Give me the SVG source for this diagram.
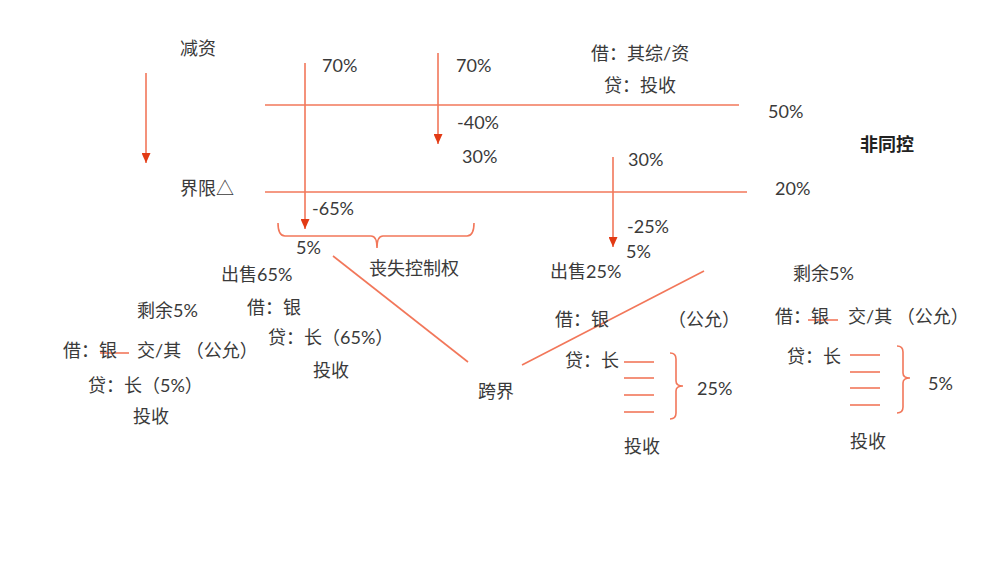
<svg xmlns="http://www.w3.org/2000/svg" width="1004" height="565" viewBox="0 0 1004 565">
<style>
text{font-family:"Lato","Noto Sans CJK SC",sans-serif;font-size:18px;fill:#3a3a3a}
.b{font-weight:bold;fill:#222}
.ln{stroke:#F2775A;stroke-width:1.6;fill:none}
.ar{stroke:#F2775A;stroke-width:1.6;fill:none;marker-end:url(#ah)}
</style>
<defs>
<marker id="ah" markerWidth="10" markerHeight="9" refX="10" refY="4.5" orient="auto" markerUnits="userSpaceOnUse" viewBox="0 0 10 9">
<path d="M0,0 L10,4.5 L0,9 Z" fill="#E23A14"/>
</marker>
</defs>
<rect width="1004" height="565" fill="#fff"/>
<g id="connectors">
<line class="ar" x1="146" y1="73" x2="146" y2="163"/>
<line class="ar" x1="305" y1="63" x2="305" y2="229"/>
<line class="ar" x1="438" y1="53" x2="438" y2="144"/>
<line class="ar" x1="613" y1="157" x2="613" y2="247"/>
<line class="ln" x1="265" y1="105" x2="739" y2="105"/>
<line class="ln" x1="265" y1="192" x2="747" y2="192"/>
<path class="ln" d="M278,223 Q278,236 285,236 L371,236 Q377,236 377,248 Q377,236 383,236 L467,236 Q474,236 474,223"/>
<line class="ln" x1="333" y1="256" x2="468" y2="362"/>
<line class="ln" x1="522" y1="365" x2="704" y2="271"/>
<line class="ln" x1="100" y1="353" x2="129" y2="353"/>
<line class="ln" x1="808" y1="320" x2="838" y2="320"/>
<line class="ln" x1="624" y1="362" x2="654" y2="362"/>
<line class="ln" x1="624" y1="378" x2="654" y2="378"/>
<line class="ln" x1="624" y1="395" x2="654" y2="395"/>
<line class="ln" x1="624" y1="412" x2="654" y2="412"/>
<path class="ln" d="M670,353 Q676,353 676,359 L676,381 Q676,386 683,386 Q676,386 676,391 L676,413 Q676,419 670,419"/>
<line class="ln" x1="850" y1="355" x2="880" y2="355"/>
<line class="ln" x1="850" y1="372" x2="880" y2="372"/>
<line class="ln" x1="850" y1="388" x2="880" y2="388"/>
<line class="ln" x1="850" y1="405" x2="880" y2="405"/>
<path class="ln" d="M897,346 Q903,346 903,352 L903,373 Q903,378 910,378 Q903,378 903,383 L903,407 Q903,413 897,413"/>
</g>
<g id="n-jianzi"><text x="180" y="55">减资</text></g>
<g id="n-jiexian"><text x="180" y="195">界限△</text></g>
<g id="n-top-left"><text x="322" y="72">70%</text><text x="312" y="215">-65%</text><text x="296" y="254">5%</text></g>
<g id="n-top-mid"><text x="456" y="72">70%</text><text x="457" y="129">-40%</text><text x="462" y="163">30%</text></g>
<g id="n-entry-top"><text x="591" y="60">借：其综/资</text><text x="604" y="92">贷：投收</text></g>
<g id="n-50"><text x="768" y="118">50%</text></g>
<g id="n-20"><text x="775" y="195">20%</text></g>
<g id="n-feitongkong"><text class="b" x="860" y="151">非同控</text></g>
<g id="n-right-arrow"><text x="628" y="166">30%</text><text x="627" y="233">-25%</text><text x="626" y="258">5%</text></g>
<g id="n-sangshi"><text x="369" y="275">丧失控制权</text></g>
<g id="n-sell65"><text x="221" y="281">出售65%</text><text x="247" y="314">借：银</text><text x="268" y="344">贷：长（65%）</text><text x="313" y="377">投收</text></g>
<g id="n-remain-left"><text x="137" y="317">剩余5%</text><text x="63" y="357">借：银</text><text x="137" y="357">交/其 （公允）</text><text x="88" y="392">贷：长（5%）</text><text x="133" y="423">投收</text></g>
<g id="n-kuajie"><text x="478" y="398">跨界</text></g>
<g id="n-sell25"><text x="550" y="278">出售25%</text><text x="555" y="326">借：银</text><text x="668" y="326">（公允）</text><text x="565" y="367">贷：长</text><text x="697" y="395">25%</text><text x="624" y="453">投收</text></g>
<g id="n-remain-right"><text x="793" y="280">剩余5%</text><text x="775" y="323">借：银</text><text x="848" y="323">交/其 （公允）</text><text x="787" y="363">贷：长</text><text x="928" y="390">5%</text><text x="850" y="448">投收</text></g>
</svg>
